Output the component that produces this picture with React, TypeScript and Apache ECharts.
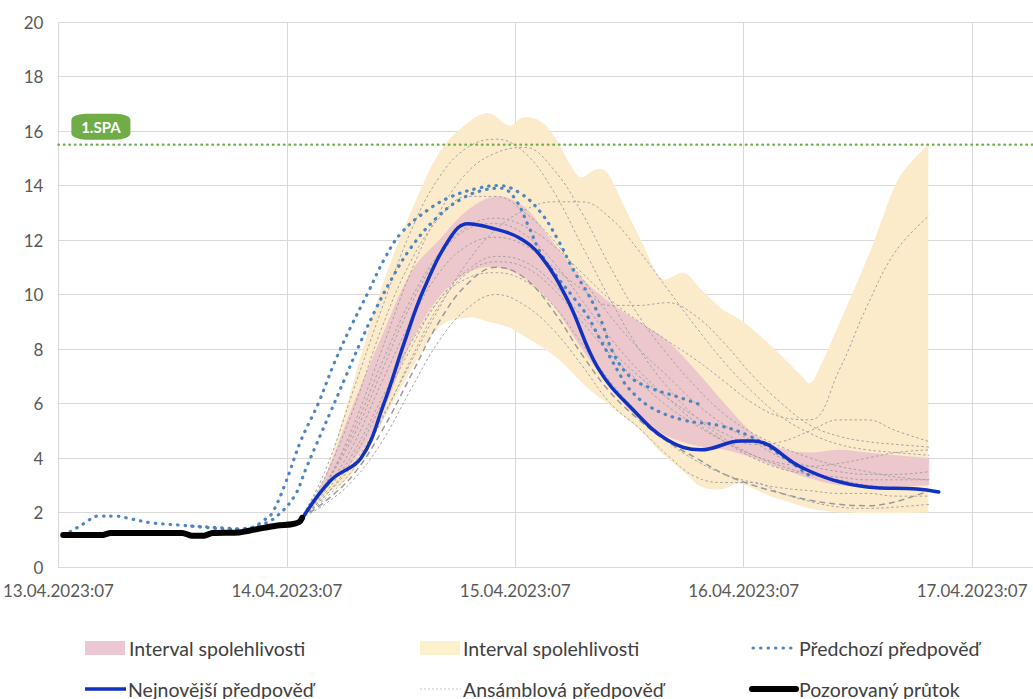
import React, { useEffect, useRef } from 'react';
import * as echarts from 'echarts';

// x values are hours since 13.04.2023 07:00
const xTickLabels = ['13.04.2023:07', '14.04.2023:07', '15.04.2023:07', '16.04.2023:07', '17.04.2023:07'];
const xMaxHours = 102.4;
const yMin = 0;
const yMax = 20;
const yStep = 2;
const spaLevel = 15.5;
const spaLabel = '1.SPA';

const observedHours = [0.5, 4.5, 5.5, 13, 14, 15.3, 16.2, 19, 21, 23, 24.5, 25.3, 25.6];
const observedValues = [1.17, 1.17, 1.25, 1.25, 1.15, 1.15, 1.25, 1.27, 1.4, 1.52, 1.57, 1.65, 1.8];

const newestHours = [25.5, 28.65, 31.8, 34.2, 36.3, 38.4, 41.2, 43.0, 45.4, 48.3, 50.7, 53.5, 56.7, 60.4, 64.0, 67.5, 71.7, 73.0, 78.0, 81.4, 85.0, 90.2, 92.5];
const newestValues = [1.72, 3.19, 4.0, 6.0, 8.2, 10.2, 12.1, 12.6, 12.45, 12.1, 11.4, 9.8, 7.3, 5.76, 4.66, 4.3, 4.62, 4.62, 3.67, 3.19, 2.94, 2.86, 2.75];

const prevAHours = [0.5, 1.15, 2.7, 4.2, 5.9, 7.7, 9.8, 12.6, 15.0, 17.8, 20.3, 21.6, 22.4, 23.7, 25.5, 27.3, 29.0, 30.7, 32.5, 34.2, 36.0, 38.8, 41.2, 44.1, 46.2, 48.6, 50.7, 52.5, 54.1, 55.6, 57.0, 58.3, 60.1, 62.2, 65.1, 67.5];
const prevAValues = [1.2, 1.28, 1.6, 1.87, 1.87, 1.76, 1.62, 1.54, 1.47, 1.39, 1.45, 1.72, 1.95, 2.94, 4.66, 6.0, 7.5, 8.8, 10.05, 11.27, 12.25, 13.1, 13.58, 13.9, 14.0, 13.7, 13.0, 12.0, 10.9, 10.05, 9.06, 7.85, 6.97, 6.57, 6.24, 5.95];

const prevBHours = [14.0, 16.6, 19.2, 21.3, 22.9, 24.8, 26.0, 27.1, 28.6, 30.2, 31.8, 33.4, 34.9, 37.0, 39.7, 42.3, 44.9, 46.5, 48.0, 49.4, 50.7, 52.5, 54.1, 55.6, 57.0, 59.1, 59.8, 62.2, 65.7, 69.3, 72.4, 75.1, 78.8];
const prevBValues = [1.5, 1.45, 1.4, 1.55, 1.85, 2.6, 3.6, 4.5, 5.7, 7.0, 8.3, 9.5, 10.5, 11.7, 12.8, 13.5, 13.85, 13.9, 13.5, 12.5, 11.5, 10.6, 9.9, 9.2, 8.3, 7.0, 6.6, 5.87, 5.39, 5.2, 4.84, 4.29, 3.38];

// outer (yellow) confidence interval
const outerHours = [25.5, 28, 31, 34, 37, 40, 43, 45.2, 47.3, 48.8, 50.7, 52.3, 53.8, 54.9, 56.5, 57.7, 59.1, 61.2, 63.3, 65.7, 67.5, 69.6, 71.7, 74.8, 78.0, 79.0, 80.1, 82.2, 85.3, 87.9, 89.7, 91.4];
const outerUpper = [1.8, 3.3, 6.8, 10.3, 13.0, 15.2, 16.3, 16.66, 16.2, 16.5, 16.35, 15.7, 14.75, 14.3, 14.6, 14.45, 13.5, 12.0, 10.6, 10.8, 10.2, 9.5, 9.06, 8.15, 7.05, 6.75, 7.4, 9.06, 11.6, 14.0, 14.9, 15.5];
const outerLower = [1.7, 2.6, 3.5, 5.3, 7.2, 8.8, 9.15, 9.0, 8.8, 8.5, 8.1, 7.7, 7.2, 6.8, 6.3, 6.0, 5.6, 5.0, 4.2, 3.5, 2.95, 2.85, 3.05, 2.6, 2.25, 2.15, 2.08, 2.0, 1.98, 1.98, 1.99, 2.0];

// inner (pink) confidence interval and ensemble members share these hours
const bandHours = [25.5, 28, 31, 34, 37, 40, 43, 46, 49, 52, 55, 58, 61, 64, 67, 70, 73, 76, 79, 82, 85, 88, 91.5];
const innerUpper = [1.75, 3.3, 6.0, 8.5, 10.8, 12.0, 13.1, 13.6, 13.2, 11.9, 10.6, 9.7, 9.0, 8.3, 7.2, 6.0, 4.9, 4.35, 4.2, 4.3, 4.2, 4.1, 4.0];
const innerLower = [1.7, 2.9, 3.9, 5.6, 8.2, 9.9, 10.8, 11.0, 10.6, 9.6, 8.0, 6.6, 5.4, 4.8, 4.45, 4.3, 4.0, 3.6, 3.25, 3.0, 2.95, 2.95, 3.0];

const ensembleMembers = [
  [1.8, 3.5, 6.5, 9.5, 12.3, 14.3, 15.4, 15.7, 15.2, 13.8, 11.8, 9.8, 8.0, 6.6, 5.5, 4.7, 4.1, 3.7, 3.4, 3.2, 3.0, 2.9, 2.8],
  [1.8, 3.0, 5.2, 8.0, 10.8, 13.0, 14.5, 15.2, 15.4, 14.6, 13.0, 11.0, 9.2, 7.8, 6.6, 5.6, 4.9, 4.4, 4.0, 3.7, 3.5, 3.3, 3.2],
  [1.8, 2.6, 3.8, 5.5, 7.5, 9.5, 11.2, 12.4, 13.1, 13.4, 13.4, 12.8, 11.6, 10.2, 8.8, 7.5, 6.4, 5.5, 4.9, 4.5, 4.3, 4.2, 4.1],
  [1.8, 3.0, 5.0, 7.5, 9.8, 11.5, 12.5, 12.8, 12.5, 11.8, 10.8, 9.8, 9.0, 8.3, 7.6, 6.8, 6.0, 5.5, 5.4, 7.2, 9.6, 11.6, 12.9],
  [1.8, 2.3, 3.2, 4.6, 6.5, 8.3, 9.5, 10.0, 9.6, 8.7, 7.4, 6.0, 5.1, 4.1, 3.3, 3.1, 3.1, 2.7, 2.4, 2.2, 2.15, 2.2, 2.3],
  [1.8, 2.8, 4.5, 6.8, 9.0, 10.8, 11.8, 12.1, 11.8, 11.0, 10.2, 9.6, 9.6, 9.7, 9.2, 8.2, 7.0, 6.0, 5.2, 4.8, 4.6, 4.5, 4.4],
  [1.8, 2.7, 4.2, 6.2, 8.2, 9.8, 10.9, 11.4, 11.2, 10.4, 9.2, 8.0, 7.0, 6.2, 5.5, 4.9, 4.5, 4.6, 5.0, 5.4, 5.4, 5.0, 4.6],
  [1.8, 3.0, 4.8, 7.2, 9.6, 11.4, 12.4, 12.6, 12.2, 11.2, 9.8, 8.4, 7.2, 6.2, 5.3, 4.6, 4.0, 3.6, 3.4, 3.3, 3.2, 3.2, 3.2],
  [1.8, 3.3, 5.8, 8.8, 11.2, 12.8, 13.6, 13.6, 13.0, 12.0, 10.6, 9.2, 8.0, 7.0, 6.0, 5.2, 4.6, 4.0, 3.7, 3.5, 3.4, 3.4, 3.5],
  [1.8, 2.5, 3.6, 5.4, 7.6, 9.6, 10.8, 11.2, 11.0, 10.2, 9.0, 7.8, 6.8, 5.9, 5.2, 4.6, 4.1, 3.8, 3.7, 3.8, 4.0, 4.2, 4.3],
  [1.8, 2.6, 4.0, 6.0, 8.0, 9.8, 10.6, 10.8, 10.5, 9.6, 8.2, 6.8, 5.6, 4.6, 3.9, 3.4, 3.1, 2.9, 2.8, 2.7, 2.7, 2.6, 2.6],
];
const ensembleLongDash = [1.8, 2.4, 3.4, 5.0, 7.0, 9.0, 10.4, 11.0, 10.6, 9.4, 7.8, 6.4, 5.4, 4.6, 4.0, 3.4, 3.0, 2.7, 2.45, 2.3, 2.25, 2.4, 2.8];

const legendNames = {
  innerBand: 'Interval spolehlivosti',
  outerBand: 'Interval spolehlivosti',
  previous: 'Předchozí předpověď',
  newest: 'Nejnovější předpověď',
  ensemble: 'Ansámblová předpověď',
  observed: 'Pozorovaný průtok',
};

const FONT = 'Lato, "Open Sans", sans-serif';
const COLORS = {
  outerBand: '#FCEBCB',
  innerBand: 'rgba(226,178,204,0.62)',
  innerBandLegend: '#EBC8D3',
  outerBandLegend: '#FDF0CC',
  previous: '#4D86C0',
  newest: '#1131C2',
  ensemble: '#A3A3A3',
  observed: '#000000',
  spa: '#70AD47',
  grid: '#D9D9D9',
  label: '#595959',
  legendText: '#404040',
};

const zip = (xs: number[], ys: number[]) => xs.map((x, i) => [x, ys[i]]);

// Catmull-Rom spline through pixel points, as cubic bezier commands
function curveThrough(pts: number[][], k = 1 / 6) {
  let d = '';
  for (let i = 0; i < pts.length - 1; i++) {
    const p0 = pts[i - 1] || pts[i];
    const p1 = pts[i];
    const p2 = pts[i + 1];
    const p3 = pts[i + 2] || p2;
    const c1x = p1[0] + (p2[0] - p0[0]) * k;
    const c1y = p1[1] + (p2[1] - p0[1]) * k;
    const c2x = p2[0] - (p3[0] - p1[0]) * k;
    const c2y = p2[1] - (p3[1] - p1[1]) * k;
    d += ` C${c1x.toFixed(2)},${c1y.toFixed(2)} ${c2x.toFixed(2)},${c2y.toFixed(2)} ${p2[0].toFixed(2)},${p2[1].toFixed(2)}`;
  }
  return d;
}

function buildBand(name: string, hours: number[], lower: number[], upper: number[], color: string) {
  return {
    name,
    type: 'custom',
    silent: true,
    encode: { x: 0, y: 1 },
    data: zip(hours, upper),
    renderItem: (params: any, api: any) => {
      if (params.dataIndex !== 0) return null;
      const top = hours.map((h, i) => api.coord([h, upper[i]]));
      const bottom = hours.map((h, i) => api.coord([h, lower[i]])).reverse();
      const d =
        `M${top[0][0].toFixed(2)},${top[0][1].toFixed(2)}` +
        curveThrough(top) +
        ` L${bottom[0][0].toFixed(2)},${bottom[0][1].toFixed(2)}` +
        curveThrough(bottom) +
        ' Z';
      return {
        type: 'path',
        shape: { pathData: d },
        style: { fill: color },
      };
    },
  };
}

export default function App() {
  const ref = useRef<HTMLDivElement>(null);

  useEffect(() => {
    if (!ref.current) return;
    const chart = echarts.init(ref.current, undefined, { renderer: 'svg' });

    const ensembleSeries = ensembleMembers.map((vals, k) => ({
      name: legendNames.ensemble,
      id: 'ens' + k,
      type: 'line',
      data: zip(bandHours, vals),
      symbol: 'none',
      smooth: 0.4,
      lineStyle: { color: COLORS.ensemble, width: 1, type: [2.5, 2.5] },
      silent: true,
    }));

    const legendY1 = 648;
    const legendY2 = 689;
    const cols = [85, 420, 752];
    const textStyle = (t: string) => ({ text: t, font: '19.5px ' + FONT, fill: COLORS.legendText, verticalAlign: 'middle' as const });

    const option: any = {
      animation: false,
      backgroundColor: '#ffffff',
      grid: { left: 57, right: 0, top: 22, bottom: 132, containLabel: false },
      xAxis: {
        type: 'value',
        min: 0,
        max: xMaxHours,
        interval: 24,
        axisLine: { show: true, lineStyle: { color: COLORS.grid, width: 1 } },
        axisTick: { show: false },
        splitLine: { show: true, lineStyle: { color: COLORS.grid, width: 1 } },
        axisLabel: {
          color: COLORS.label,
          fontFamily: FONT,
          fontSize: 17,
          margin: 15,
          showMaxLabel: false,
          formatter: (v: number) => {
            const idx = v / 24;
            return Number.isInteger(idx) && xTickLabels[idx] ? xTickLabels[idx] : '';
          },
        },
      },
      yAxis: {
        type: 'value',
        min: yMin,
        max: yMax,
        interval: yStep,
        axisLine: { show: false },
        axisTick: { show: false },
        splitLine: { lineStyle: { color: COLORS.grid, width: 1 } },
        axisLabel: { color: COLORS.label, fontFamily: FONT, fontSize: 17, margin: 15 },
      },
      series: [
        buildBand(legendNames.outerBand, outerHours, outerLower, outerUpper, COLORS.outerBand),
        buildBand(legendNames.innerBand, bandHours, innerLower, innerUpper, COLORS.innerBand),
        ...ensembleSeries,
        {
          name: legendNames.ensemble,
          id: 'ensLong',
          type: 'line',
          data: zip(bandHours, ensembleLongDash),
          symbol: 'none',
          smooth: 0.4,
          lineStyle: { color: '#999999', width: 1.5, type: [6, 4] },
          silent: true,
        },
        {
          name: legendNames.previous,
          id: 'prevA',
          type: 'line',
          data: zip(prevAHours, prevAValues),
          symbol: 'none',
          smooth: 0.4,
          lineStyle: { color: COLORS.previous, width: 3.2, type: [0.5, 7], cap: 'round' },
        },
        {
          name: legendNames.previous,
          id: 'prevB',
          type: 'line',
          data: zip(prevBHours, prevBValues),
          symbol: 'none',
          smooth: 0.4,
          lineStyle: { color: COLORS.previous, width: 3.2, type: [0.5, 7], cap: 'round' },
        },
        {
          name: legendNames.newest,
          type: 'line',
          data: zip(newestHours, newestValues),
          symbol: 'none',
          smooth: 0.4,
          lineStyle: { color: COLORS.newest, width: 3.5, cap: 'round' },
        },
        {
          name: legendNames.observed,
          type: 'line',
          data: zip(observedHours, observedValues),
          symbol: 'none',
          smooth: 0.3,
          lineStyle: { color: COLORS.observed, width: 6, cap: 'round', join: 'round' },
        },
        {
          name: spaLabel,
          type: 'line',
          data: [[0, spaLevel], [xMaxHours, spaLevel]],
          symbol: 'none',
          lineStyle: { color: COLORS.spa, width: 2.4, type: [0.5, 5], cap: 'round' },
          markPoint: {
            silent: true,
            data: [
              {
                coord: [4.46, spaLevel],
                symbol: 'roundRect',
                symbolSize: [59, 26],
                symbolOffset: [0, -18],
                itemStyle: { color: COLORS.spa },
                label: { show: true, formatter: spaLabel, color: '#ffffff', fontWeight: 'bold', fontSize: 15, fontFamily: FONT },
              },
            ],
          },
        },
      ],
      graphic: [
        { type: 'rect', left: cols[0], top: legendY1 - 7, shape: { width: 40, height: 14 }, style: { fill: COLORS.innerBandLegend } },
        { type: 'text', x: cols[0] + 44, y: legendY1, style: textStyle(legendNames.innerBand) },
        { type: 'rect', left: cols[1], top: legendY1 - 7, shape: { width: 40, height: 14 }, style: { fill: COLORS.outerBandLegend } },
        { type: 'text', x: cols[1] + 43, y: legendY1, style: textStyle(legendNames.outerBand) },
        { type: 'line', shape: { x1: cols[2] + 1, y1: legendY1, x2: cols[2] + 42, y2: legendY1 }, style: { stroke: COLORS.previous, lineWidth: 3, lineDash: [0.5, 7], lineCap: 'round' } },
        { type: 'text', x: cols[2] + 47, y: legendY1, style: textStyle(legendNames.previous) },
        { type: 'line', shape: { x1: cols[0], y1: legendY2, x2: cols[0] + 41, y2: legendY2 }, style: { stroke: COLORS.newest, lineWidth: 3.5 } },
        { type: 'text', x: cols[0] + 43, y: legendY2, style: textStyle(legendNames.newest) },
        { type: 'line', shape: { x1: cols[1], y1: legendY2, x2: cols[1] + 41, y2: legendY2 }, style: { stroke: '#C8C8C8', lineWidth: 1, lineDash: [2, 2] } },
        { type: 'text', x: cols[1] + 43, y: legendY2, style: textStyle(legendNames.ensemble) },
        { type: 'line', shape: { x1: cols[2], y1: legendY2, x2: cols[2] + 44, y2: legendY2 }, style: { stroke: COLORS.observed, lineWidth: 6, lineCap: 'round' } },
        { type: 'text', x: cols[2] + 47, y: legendY2, style: textStyle(legendNames.observed) },
      ],
    };

    chart.setOption(option);
    return () => chart.dispose();
  }, []);

  return <div ref={ref} style={{ position: 'absolute', left: 0, top: 0, width: 1033, height: 699 }} />;
}
